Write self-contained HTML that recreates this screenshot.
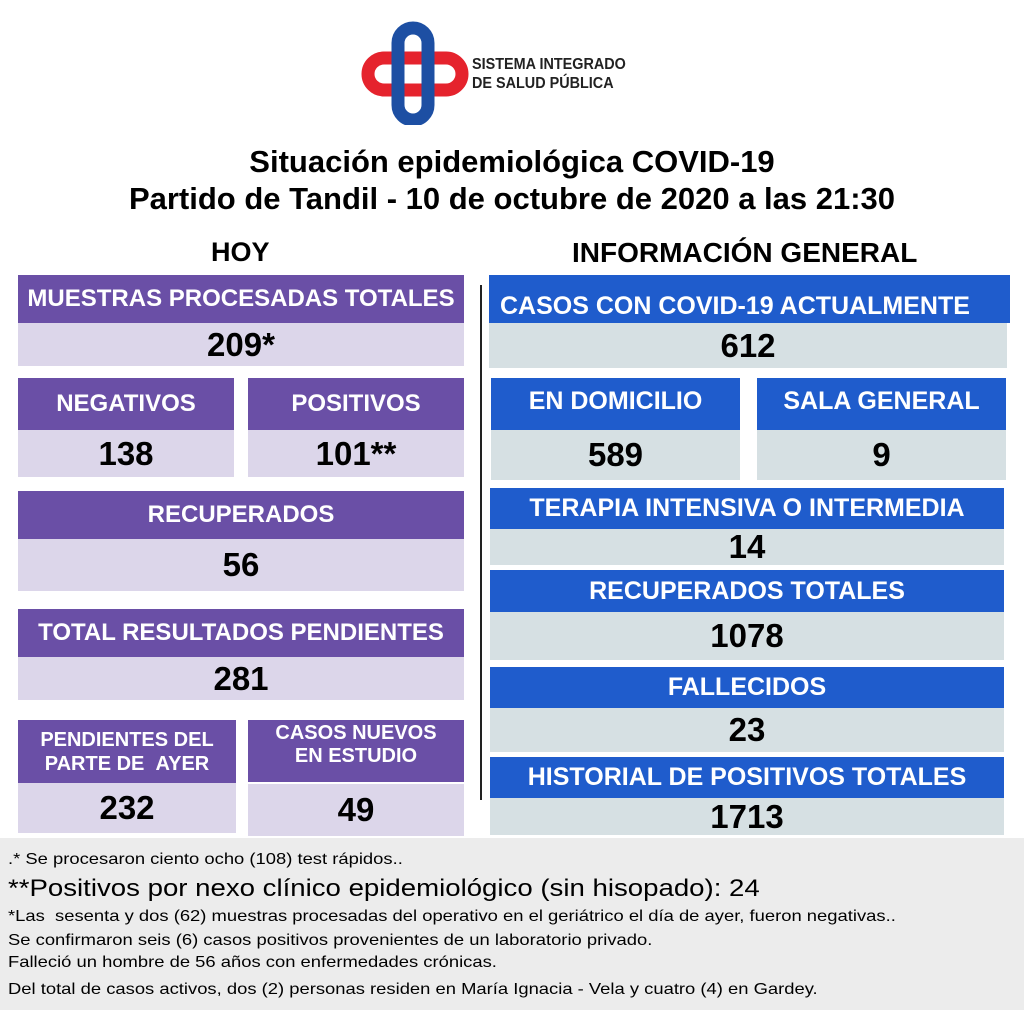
<!DOCTYPE html>
<html><head><meta charset="utf-8"><style>
body{margin:0;width:1024px;height:1024px;background:#fff;position:relative;overflow:hidden;font-family:"Liberation Sans",sans-serif}
.a{position:absolute;box-sizing:border-box}
.hp{background:#6a4fa6;color:#fff;font-weight:bold;text-align:center;display:flex;align-items:center;justify-content:center;font-size:24px;white-space:nowrap}
.vp{background:#dcd6ea;color:#000;font-weight:bold;text-align:center;display:flex;align-items:center;justify-content:center;font-size:33px}
.hb{background:#1f5ccc;color:#fff;font-weight:bold;text-align:center;display:flex;align-items:center;justify-content:center;font-size:25px;white-space:nowrap}
.vb{background:#d6e0e3;color:#000;font-weight:bold;text-align:center;display:flex;align-items:center;justify-content:center;font-size:33px}
.t{position:absolute;white-space:nowrap}
.f{position:absolute;white-space:nowrap;transform:scaleX(1.15);transform-origin:left top;font-size:16px}
</style></head><body>
<svg class="a" style="left:360px;top:20px" width="110" height="105">
<rect x="8" y="38" width="94" height="32" rx="16" fill="none" stroke="#e5232d" stroke-width="13"/>
<rect x="38" y="8" width="30" height="92" rx="15" fill="none" stroke="#1d4fa3" stroke-width="13"/>
</svg>
<div class="t" style="left:472px;top:55px;font-size:16px;font-weight:bold;line-height:19px;color:#222;transform:scaleX(0.9);transform-origin:left">SISTEMA INTEGRADO<br>DE SALUD PÚBLICA</div>
<div class="t" style="left:0;width:1024px;text-align:center;top:143px;font-size:31px;font-weight:bold;line-height:37px">Situación epidemiológica COVID-19<br>Partido de Tandil - 10 de octubre de 2020 a las 21:30</div>
<div class="t" style="left:211px;top:237px;font-size:27px;font-weight:bold">HOY</div>
<div class="t" style="left:572px;top:237px;font-size:28px;font-weight:bold">INFORMACIÓN GENERAL</div>
<div class="a" style="left:480px;top:285px;width:2px;height:515px;background:#222"></div>

<div class="a hp" style="left:18px;top:275px;width:446px;height:48px">MUESTRAS PROCESADAS TOTALES</div>
<div class="a vp" style="left:18px;top:323px;width:446px;height:43px">209*</div>
<div class="a hp" style="left:18px;top:378px;width:216px;height:52px">NEGATIVOS</div>
<div class="a vp" style="left:18px;top:430px;width:216px;height:47px">138</div>
<div class="a hp" style="left:248px;top:378px;width:216px;height:52px">POSITIVOS</div>
<div class="a vp" style="left:248px;top:430px;width:216px;height:47px">101**</div>
<div class="a hp" style="left:18px;top:491px;width:446px;height:48px">RECUPERADOS</div>
<div class="a vp" style="left:18px;top:539px;width:446px;height:52px">56</div>
<div class="a hp" style="left:18px;top:609px;width:446px;height:48px">TOTAL RESULTADOS PENDIENTES</div>
<div class="a vp" style="left:18px;top:657px;width:446px;height:43px">281</div>
<div class="a hp" style="left:18px;top:720px;width:218px;height:63px;font-size:20px;line-height:24px">PENDIENTES DEL<br>PARTE DE &nbsp;AYER</div>
<div class="a vp" style="left:18px;top:783px;width:218px;height:50px">232</div>
<div class="a hp" style="left:248px;top:720px;width:216px;height:62px;font-size:20px;line-height:23px;align-items:flex-start;padding-top:2px">CASOS NUEVOS<br>EN ESTUDIO</div>
<div class="a vp" style="left:248px;top:784px;width:216px;height:52px">49</div>

<div class="a hb" style="left:489px;top:275px;width:521px;height:48px;justify-content:flex-start;padding-left:11px;padding-top:14px">CASOS CON COVID-19 ACTUALMENTE</div>
<div class="a vb" style="left:489px;top:323px;width:518px;height:45px">612</div>
<div class="a hb" style="left:491px;top:378px;width:249px;height:52px;align-items:flex-start;padding-top:9px">EN DOMICILIO</div>
<div class="a vb" style="left:491px;top:430px;width:249px;height:50px">589</div>
<div class="a hb" style="left:757px;top:378px;width:249px;height:52px;align-items:flex-start;padding-top:9px">SALA GENERAL</div>
<div class="a vb" style="left:757px;top:430px;width:249px;height:50px">9</div>
<div class="a hb" style="left:490px;top:488px;width:514px;height:41px">TERAPIA INTENSIVA O INTERMEDIA</div>
<div class="a vb" style="left:490px;top:529px;width:514px;height:36px">14</div>
<div class="a hb" style="left:490px;top:570px;width:514px;height:42px">RECUPERADOS TOTALES</div>
<div class="a vb" style="left:490px;top:612px;width:514px;height:48px">1078</div>
<div class="a hb" style="left:490px;top:667px;width:514px;height:41px">FALLECIDOS</div>
<div class="a vb" style="left:490px;top:708px;width:514px;height:44px">23</div>
<div class="a hb" style="left:490px;top:757px;width:514px;height:41px">HISTORIAL DE POSITIVOS TOTALES</div>
<div class="a vb" style="left:490px;top:798px;width:514px;height:37px">1713</div>

<div class="a" style="left:0;top:838px;width:1024px;height:172px;background:#ececec"></div>
<div class="f" style="left:8px;top:851px">.* Se procesaron ciento ocho (108) test rápidos..</div>
<div class="f" style="left:8px;top:875px;font-size:24px">**Positivos por nexo clínico epidemiológico (sin hisopado): 24</div>
<div class="f" style="left:8px;top:908px">*Las &nbsp;sesenta y dos (62) muestras procesadas del operativo en el geriátrico el día de ayer, fueron negativas..</div>
<div class="f" style="left:8px;top:932px">Se confirmaron seis (6) casos positivos provenientes de un laboratorio privado.</div>
<div class="f" style="left:8px;top:954px">Falleció un hombre de 56 años con enfermedades crónicas.</div>
<div class="f" style="left:8px;top:981px">Del total de casos activos, dos (2) personas residen en María Ignacia - Vela y cuatro (4) en Gardey.</div>
</body></html>
